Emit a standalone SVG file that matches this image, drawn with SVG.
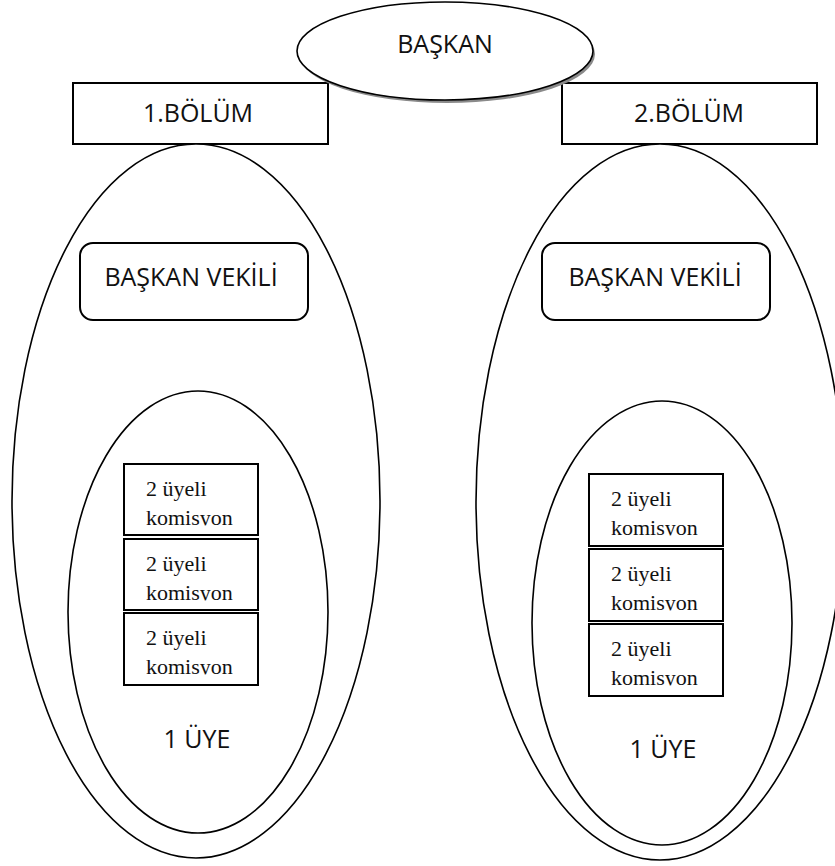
<svg xmlns="http://www.w3.org/2000/svg" width="835" height="866" viewBox="0 0 835 866">
<style>
.ln{fill:#fff;stroke:#000;stroke-width:1.6}
.bx{fill:#fff;stroke:#000;stroke-width:2}
.sans{font-family:"Open Sans","Liberation Sans",sans-serif;font-size:25px;fill:#111;text-anchor:middle}
.serif{font-family:"Liberation Serif","Times New Roman",serif;font-size:22px;fill:#111}
</style>
<defs>
<clipPath id="c1" clipPathUnits="userSpaceOnUse"><rect x="124" y="464" width="134" height="61.5"/></clipPath>
<clipPath id="c2" clipPathUnits="userSpaceOnUse"><rect x="124" y="539" width="134" height="61.5"/></clipPath>
<clipPath id="c3" clipPathUnits="userSpaceOnUse"><rect x="124" y="613" width="134" height="61.5"/></clipPath>
<clipPath id="c4" clipPathUnits="userSpaceOnUse"><rect x="589" y="474" width="134" height="61.5"/></clipPath>
<clipPath id="c5" clipPathUnits="userSpaceOnUse"><rect x="589" y="549" width="134" height="61.5"/></clipPath>
<clipPath id="c6" clipPathUnits="userSpaceOnUse"><rect x="589" y="624" width="134" height="61.5"/></clipPath>
</defs>
<rect width="835" height="866" fill="#fff"/>

<g id="bolum1">
<rect class="bx" x="73" y="83" width="255" height="61"/>
<text class="sans" x="198" y="122">1.BÖLÜM</text>
</g>
<g id="bolum2">
<rect class="bx" x="562" y="83" width="255" height="61"/>
<text class="sans" x="689" y="122">2.BÖLÜM</text>
</g>

<g id="baskan">
<ellipse cx="447" cy="54" rx="148" ry="49" fill="#8a8a8a"/>
<ellipse class="ln" cx="445" cy="51" rx="148" ry="49"/>
<text class="sans" x="445" y="53">BAŞKAN</text>
</g>

<g id="bolum1-alan">
<ellipse class="ln" cx="196" cy="501" rx="184" ry="357"/>
</g>
<g id="bolum2-alan">
<ellipse class="ln" cx="660" cy="502" rx="184" ry="358"/>
</g>

<g id="vekil1">
<rect class="bx" x="80" y="243" width="228" height="77" rx="13"/>
<text class="sans" x="191" y="286">BAŞKAN VEKİLİ</text>
</g>
<g id="vekil2">
<rect class="bx" x="542" y="243" width="228" height="77" rx="13"/>
<text class="sans" x="655" y="286">BAŞKAN VEKİLİ</text>
</g>

<g id="uye1-alan">
<ellipse class="ln" cx="198" cy="612" rx="130" ry="221"/>
<text class="sans" x="197" y="748" font-size="23">1 ÜYE</text>
</g>
<g id="uye2-alan">
<ellipse class="ln" cx="662" cy="623" rx="130" ry="222"/>
<text class="sans" x="663" y="758" font-size="23">1 ÜYE</text>
</g>

<g id="kom1a">
<rect class="bx" x="124" y="464" width="134" height="71"/>
<g clip-path="url(#c1)"><text class="serif" x="146" y="495.5">2 üyeli</text><text class="serif" x="146" y="524.5">komisyon</text></g>
</g>
<g id="kom1b">
<rect class="bx" x="124" y="539" width="134" height="71"/>
<g clip-path="url(#c2)"><text class="serif" x="146" y="570.5">2 üyeli</text><text class="serif" x="146" y="599.5">komisyon</text></g>
</g>
<g id="kom1c">
<rect class="bx" x="124" y="613" width="134" height="72"/>
<g clip-path="url(#c3)"><text class="serif" x="146" y="644.5">2 üyeli</text><text class="serif" x="146" y="673.5">komisyon</text></g>
</g>

<g id="kom2a">
<rect class="bx" x="589" y="474" width="134" height="72"/>
<g clip-path="url(#c4)"><text class="serif" x="611" y="505.5">2 üyeli</text><text class="serif" x="611" y="534.5">komisyon</text></g>
</g>
<g id="kom2b">
<rect class="bx" x="589" y="549" width="134" height="72"/>
<g clip-path="url(#c5)"><text class="serif" x="611" y="580.5">2 üyeli</text><text class="serif" x="611" y="609.5">komisyon</text></g>
</g>
<g id="kom2c">
<rect class="bx" x="589" y="624" width="134" height="72"/>
<g clip-path="url(#c6)"><text class="serif" x="611" y="655.5">2 üyeli</text><text class="serif" x="611" y="684.5">komisyon</text></g>
</g>

<g id="connectors"/>
</svg>
